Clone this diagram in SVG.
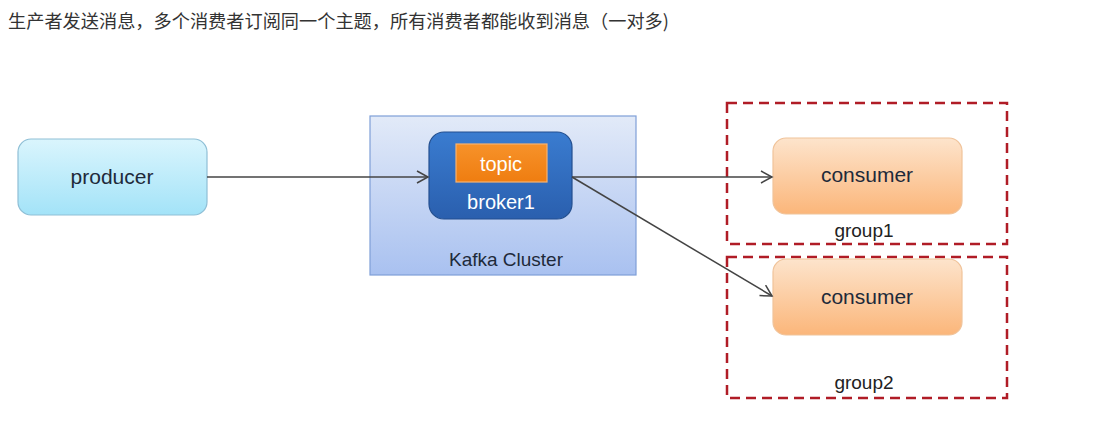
<svg xmlns="http://www.w3.org/2000/svg" width="1116" height="425" viewBox="0 0 1116 425">
<defs>
<linearGradient id="gProd" x1="0" y1="0" x2="0" y2="1"><stop offset="0" stop-color="#daf5fd"/><stop offset="1" stop-color="#a3e3f8"/></linearGradient>
<linearGradient id="gCluster" x1="0" y1="0" x2="0" y2="1"><stop offset="0" stop-color="#e2eaf8"/><stop offset="1" stop-color="#a9c1f0"/></linearGradient>
<linearGradient id="gBroker" x1="0" y1="0" x2="0" y2="1"><stop offset="0" stop-color="#3a7cd0"/><stop offset="1" stop-color="#2a5fae"/></linearGradient>
<linearGradient id="gTopic" x1="0" y1="0" x2="0" y2="1"><stop offset="0" stop-color="#f7922a"/><stop offset="1" stop-color="#ef7d10"/></linearGradient>
<linearGradient id="gCons" x1="0" y1="0" x2="0" y2="1"><stop offset="0" stop-color="#fde4cc"/><stop offset="1" stop-color="#fbb67a"/></linearGradient>
<marker id="arr" markerWidth="14" markerHeight="14" refX="12" refY="7" orient="auto" markerUnits="userSpaceOnUse">
<path d="M1,1 L12,7 L1,13" fill="none" stroke="#444" stroke-width="1.5"/>
</marker>
</defs>
<style>
.t{font-family:"Liberation Sans","Noto Sans CJK SC",sans-serif;text-anchor:middle}
.lbl{font-size:21px;fill:#1e2a3a}
.w{font-size:20px;fill:#ffffff}
.grp{fill:none;stroke:#b01c26;stroke-width:2.5;stroke-dasharray:10,6}
.conn{stroke:#444;stroke-width:1.5;fill:none}
</style>
<rect width="1116" height="425" fill="#ffffff"/>
<text x="8" y="28" font-family="'Noto Sans CJK SC',sans-serif" font-size="18.2" fill="#333">生产者发送消息，多个消费者订阅同一个主题，所有消费者都能收到消息（一对多)</text>
<g id="group1"><rect class="grp" x="727" y="103" width="280" height="141"/><text class="t" x="864" y="237" font-size="19" fill="#222">group1</text></g>
<g id="group2"><rect class="grp" x="727" y="257" width="280" height="141"/><text class="t" x="864" y="389" font-size="19" fill="#222">group2</text></g>
<g id="producer"><rect x="18" y="139" width="189" height="76" rx="13" fill="url(#gProd)" stroke="#8fbfd6" stroke-width="1.2"/><text class="t lbl" x="112" y="184">producer</text></g>
<g id="kafka-cluster"><rect x="370" y="116" width="266" height="159" fill="url(#gCluster)" stroke="#7f9fd8" stroke-width="1.2"/><text class="t" x="506" y="266" font-size="19" fill="#1e2a3a">Kafka Cluster</text></g>
<g id="broker1"><rect x="429" y="132" width="143" height="87" rx="15" fill="url(#gBroker)" stroke="#234f8f" stroke-width="1.2"/><text class="t w" x="501" y="209">broker1</text></g>
<g id="topic"><rect x="456" y="144" width="91" height="38" fill="url(#gTopic)" stroke="#f9b36e" stroke-width="1.2"/><text class="t w" x="501" y="171">topic</text></g>
<g id="consumer1"><rect x="773" y="138" width="189" height="76" rx="13" fill="url(#gCons)" stroke="#f0c39a" stroke-width="1.2"/><text class="t lbl" x="867" y="182" fill="#2a2218">consumer</text></g>
<g id="consumer2"><rect x="773" y="259" width="189" height="76" rx="13" fill="url(#gCons)" stroke="#f0c39a" stroke-width="1.2"/><text class="t lbl" x="867" y="304" fill="#2a2218">consumer</text></g>
<g id="connectors">
<line class="conn" x1="207" y1="177" x2="428" y2="177" marker-end="url(#arr)"/>
<line class="conn" x1="572" y1="177" x2="772" y2="177" marker-end="url(#arr)"/>
<line class="conn" x1="572" y1="177" x2="772" y2="296" marker-end="url(#arr)"/>
</g>
</svg>
